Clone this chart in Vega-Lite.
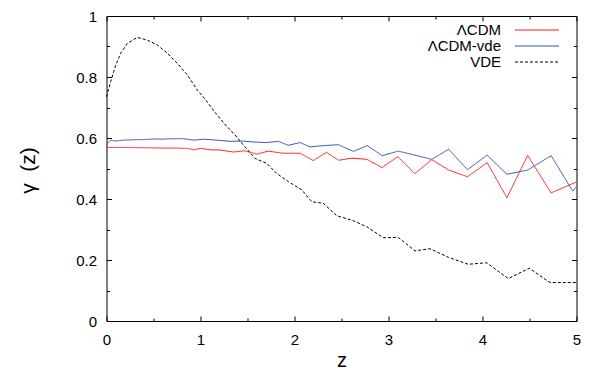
{
  "$schema": "https://vega.github.io/schema/vega-lite/v6.json",
  "width": 470,
  "height": 305,
  "autosize": "none",
  "padding": {"left": 106.5, "top": 16, "right": 12.5, "bottom": 47},
  "config": {
    "view": {"stroke": "black", "strokeWidth": 1},
    "font": "Liberation Sans",
    "axis": {
      "grid": false,
      "domain": false,
      "tickColor": "black",
      "tickWidth": 1,
      "labelColor": "black",
      "labelFont": "Liberation Sans",
      "labelFontSize": 15,
      "titleFont": "Liberation Sans",
      "titleFontWeight": "normal",
      "titleColor": "black"
    }
  },
  "data": {
    "values": [
      {"s": "ΛCDM", "z": 0, "g": 0.569},
      {"s": "ΛCDM", "z": 0.2, "g": 0.569},
      {"s": "ΛCDM", "z": 0.4, "g": 0.568},
      {"s": "ΛCDM", "z": 0.6, "g": 0.567},
      {"s": "ΛCDM", "z": 0.75, "g": 0.567},
      {"s": "ΛCDM", "z": 0.86, "g": 0.566},
      {"s": "ΛCDM", "z": 0.93, "g": 0.561},
      {"s": "ΛCDM", "z": 1.0, "g": 0.566},
      {"s": "ΛCDM", "z": 1.11, "g": 0.561},
      {"s": "ΛCDM", "z": 1.2, "g": 0.561},
      {"s": "ΛCDM", "z": 1.35, "g": 0.554},
      {"s": "ΛCDM", "z": 1.47, "g": 0.558},
      {"s": "ΛCDM", "z": 1.6, "g": 0.547},
      {"s": "ΛCDM", "z": 1.72, "g": 0.557},
      {"s": "ΛCDM", "z": 1.88, "g": 0.55},
      {"s": "ΛCDM", "z": 2.06, "g": 0.55},
      {"s": "ΛCDM", "z": 2.2, "g": 0.526},
      {"s": "ΛCDM", "z": 2.34, "g": 0.553},
      {"s": "ΛCDM", "z": 2.47, "g": 0.527},
      {"s": "ΛCDM", "z": 2.61, "g": 0.534},
      {"s": "ΛCDM", "z": 2.77, "g": 0.53},
      {"s": "ΛCDM", "z": 2.93, "g": 0.503},
      {"s": "ΛCDM", "z": 3.1, "g": 0.539},
      {"s": "ΛCDM", "z": 3.28, "g": 0.483},
      {"s": "ΛCDM", "z": 3.46, "g": 0.529},
      {"s": "ΛCDM", "z": 3.64, "g": 0.495},
      {"s": "ΛCDM", "z": 3.84, "g": 0.473},
      {"s": "ΛCDM", "z": 4.05, "g": 0.519},
      {"s": "ΛCDM", "z": 4.26, "g": 0.404},
      {"s": "ΛCDM", "z": 4.48, "g": 0.543},
      {"s": "ΛCDM", "z": 4.73, "g": 0.42},
      {"s": "ΛCDM", "z": 4.97, "g": 0.452},
      {"s": "ΛCDM", "z": 5.0, "g": 0.455},
      {"s": "ΛCDM-vde", "z": 0, "g": 0.578},
      {"s": "ΛCDM-vde", "z": 0.043, "g": 0.593},
      {"s": "ΛCDM-vde", "z": 0.087, "g": 0.59},
      {"s": "ΛCDM-vde", "z": 0.181, "g": 0.593},
      {"s": "ΛCDM-vde", "z": 0.284, "g": 0.594},
      {"s": "ΛCDM-vde", "z": 0.396, "g": 0.595},
      {"s": "ΛCDM-vde", "z": 0.517, "g": 0.597},
      {"s": "ΛCDM-vde", "z": 0.582, "g": 0.596},
      {"s": "ΛCDM-vde", "z": 0.649, "g": 0.597},
      {"s": "ΛCDM-vde", "z": 0.792, "g": 0.598},
      {"s": "ΛCDM-vde", "z": 0.868, "g": 0.596},
      {"s": "ΛCDM-vde", "z": 0.93, "g": 0.593},
      {"s": "ΛCDM-vde", "z": 1.037, "g": 0.596},
      {"s": "ΛCDM-vde", "z": 1.176, "g": 0.593},
      {"s": "ΛCDM-vde", "z": 1.314, "g": 0.589},
      {"s": "ΛCDM-vde", "z": 1.455, "g": 0.59},
      {"s": "ΛCDM-vde", "z": 1.562, "g": 0.587},
      {"s": "ΛCDM-vde", "z": 1.704, "g": 0.585},
      {"s": "ΛCDM-vde", "z": 1.828, "g": 0.589},
      {"s": "ΛCDM-vde", "z": 1.934, "g": 0.576},
      {"s": "ΛCDM-vde", "z": 2.059, "g": 0.585},
      {"s": "ΛCDM-vde", "z": 2.165, "g": 0.571},
      {"s": "ΛCDM-vde", "z": 2.306, "g": 0.575},
      {"s": "ΛCDM-vde", "z": 2.466, "g": 0.578},
      {"s": "ΛCDM-vde", "z": 2.626, "g": 0.556},
      {"s": "ΛCDM-vde", "z": 2.774, "g": 0.575},
      {"s": "ΛCDM-vde", "z": 2.934, "g": 0.542},
      {"s": "ΛCDM-vde", "z": 3.104, "g": 0.557},
      {"s": "ΛCDM-vde", "z": 3.279, "g": 0.544},
      {"s": "ΛCDM-vde", "z": 3.46, "g": 0.53},
      {"s": "ΛCDM-vde", "z": 3.64, "g": 0.563},
      {"s": "ΛCDM-vde", "z": 3.84, "g": 0.496},
      {"s": "ΛCDM-vde", "z": 4.05, "g": 0.544},
      {"s": "ΛCDM-vde", "z": 4.26, "g": 0.481},
      {"s": "ΛCDM-vde", "z": 4.48, "g": 0.495},
      {"s": "ΛCDM-vde", "z": 4.73, "g": 0.542},
      {"s": "ΛCDM-vde", "z": 4.96, "g": 0.426},
      {"s": "ΛCDM-vde", "z": 5.0, "g": 0.44},
      {"s": "VDE", "z": 0, "g": 0.735},
      {"s": "VDE", "z": 0.045, "g": 0.785},
      {"s": "VDE", "z": 0.098, "g": 0.839},
      {"s": "VDE", "z": 0.151, "g": 0.878},
      {"s": "VDE", "z": 0.221, "g": 0.91},
      {"s": "VDE", "z": 0.328, "g": 0.93},
      {"s": "VDE", "z": 0.434, "g": 0.921},
      {"s": "VDE", "z": 0.54, "g": 0.905},
      {"s": "VDE", "z": 0.647, "g": 0.878},
      {"s": "VDE", "z": 0.753, "g": 0.845},
      {"s": "VDE", "z": 0.86, "g": 0.807},
      {"s": "VDE", "z": 0.966, "g": 0.757},
      {"s": "VDE", "z": 1.055, "g": 0.725},
      {"s": "VDE", "z": 1.15, "g": 0.686},
      {"s": "VDE", "z": 1.25, "g": 0.648},
      {"s": "VDE", "z": 1.367, "g": 0.61},
      {"s": "VDE", "z": 1.473, "g": 0.571},
      {"s": "VDE", "z": 1.58, "g": 0.533},
      {"s": "VDE", "z": 1.704, "g": 0.517},
      {"s": "VDE", "z": 1.81, "g": 0.484},
      {"s": "VDE", "z": 1.934, "g": 0.457},
      {"s": "VDE", "z": 2.077, "g": 0.43},
      {"s": "VDE", "z": 2.183, "g": 0.391},
      {"s": "VDE", "z": 2.306, "g": 0.386},
      {"s": "VDE", "z": 2.45, "g": 0.345},
      {"s": "VDE", "z": 2.626, "g": 0.329},
      {"s": "VDE", "z": 2.768, "g": 0.309},
      {"s": "VDE", "z": 2.945, "g": 0.273},
      {"s": "VDE", "z": 3.104, "g": 0.274},
      {"s": "VDE", "z": 3.282, "g": 0.23},
      {"s": "VDE", "z": 3.441, "g": 0.237},
      {"s": "VDE", "z": 3.636, "g": 0.209},
      {"s": "VDE", "z": 3.849, "g": 0.186},
      {"s": "VDE", "z": 4.045, "g": 0.191},
      {"s": "VDE", "z": 4.274, "g": 0.139},
      {"s": "VDE", "z": 4.498, "g": 0.173},
      {"s": "VDE", "z": 4.718, "g": 0.126},
      {"s": "VDE", "z": 5.0, "g": 0.126}
    ]
  },
  "layer": [
    {
      "mark": {"type": "line", "strokeWidth": 1},
      "encoding": {
        "x": {"field": "z", "type": "quantitative",
          "scale": {"domain": [0, 5], "nice": false, "zero": false},
          "axis": {"orient": "bottom", "values": [0, 1, 2, 3, 4, 5], "ticks": false, "labelPadding": 11, "format": "~g", "labelFlush": false,
            "title": "z", "titleFontSize": 20, "titleY": 45, "titleBaseline": "alphabetic"}},
        "y": {"field": "g", "type": "quantitative",
          "scale": {"domain": [0, 1], "nice": false, "zero": false},
          "axis": {"orient": "left", "values": [0, 0.2, 0.4, 0.6, 0.8, 1], "ticks": false, "labelPadding": 10, "format": "~g", "labelFlush": false,
            "title": "γ\u00a0\u00a0(z)", "titleFontSize": 21, "titleX": -78, "titleY": 154, "titleAngle": -90, "titleBaseline": "middle"}},
        "color": {"field": "s", "type": "nominal",
          "scale": {"domain": ["ΛCDM", "ΛCDM-vde", "VDE"], "range": ["#ff1a1a", "#3355b0", "#000000"]},
          "legend": {"title": null, "orient": "none", "legendX": 423, "legendY": 6.5, "symbolType": "M-4.4,0H4.4", "symbolSize": 100, "symbolStrokeWidth": 1, "labelFontSize": 15, "labelFont": "Liberation Sans", "labelColor": "black", "labelLimit": 300, "rowPadding": 0,
            "encode": {"labels": {"update": {"x": {"value": -28.5}, "align": {"value": "right"}}}}}},
        "strokeDash": {"field": "s", "type": "nominal",
          "scale": {"domain": ["ΛCDM", "ΛCDM-vde", "VDE"], "range": [[1, 0], [1, 0], [3, 2]]},
          "legend": {"title": null, "orient": "none", "legendX": 423, "legendY": 6.5, "symbolType": "M-4.4,0H4.4", "symbolSize": 100, "symbolStrokeWidth": 1, "labelFontSize": 15, "labelFont": "Liberation Sans", "labelColor": "black", "labelLimit": 300, "rowPadding": 0,
            "encode": {"labels": {"update": {"x": {"value": -28.5}, "align": {"value": "right"}}}}}}
      }
    },
    {
      "mark": {"type": "line", "opacity": 0},
      "encoding": {
        "x": {"field": "z", "type": "quantitative", "scale": {"domain": [0, 5], "nice": false, "zero": false},
          "axis": {"orient": "bottom", "values": [0, 1, 2, 3, 4, 5], "tickSize": -5, "labels": false, "title": null}},
        "y": {"field": "g", "type": "quantitative", "scale": {"domain": [0, 1], "nice": false, "zero": false},
          "axis": {"orient": "left", "values": [0, 0.2, 0.4, 0.6, 0.8, 1], "tickSize": -5, "labels": false, "title": null}}
      }
    },
    {
      "mark": {"type": "line", "opacity": 0},
      "encoding": {
        "x": {"field": "z", "type": "quantitative", "scale": {"domain": [0, 5], "nice": false, "zero": false},
          "axis": {"orient": "bottom", "values": [0.5, 1.5, 2.5, 3.5, 4.5], "tickSize": -3, "labels": false, "title": null}},
        "y": {"field": "g", "type": "quantitative", "scale": {"domain": [0, 1], "nice": false, "zero": false},
          "axis": {"orient": "left", "values": [0.1, 0.3, 0.5, 0.7, 0.9], "tickSize": -3, "labels": false, "title": null}}
      }
    },
    {
      "mark": {"type": "line", "opacity": 0},
      "encoding": {
        "x": {"field": "z", "type": "quantitative", "scale": {"domain": [0, 5], "nice": false, "zero": false},
          "axis": {"orient": "top", "values": [0, 1, 2, 3, 4, 5], "tickSize": -5, "labels": false, "title": null}},
        "y": {"field": "g", "type": "quantitative", "scale": {"domain": [0, 1], "nice": false, "zero": false},
          "axis": {"orient": "right", "values": [0, 0.2, 0.4, 0.6, 0.8, 1], "tickSize": -5, "labels": false, "title": null}}
      }
    },
    {
      "mark": {"type": "line", "opacity": 0},
      "encoding": {
        "x": {"field": "z", "type": "quantitative", "scale": {"domain": [0, 5], "nice": false, "zero": false},
          "axis": {"orient": "top", "values": [0.5, 1.5, 2.5, 3.5, 4.5], "tickSize": -3, "labels": false, "title": null}},
        "y": {"field": "g", "type": "quantitative", "scale": {"domain": [0, 1], "nice": false, "zero": false},
          "axis": {"orient": "right", "values": [0.1, 0.3, 0.5, 0.7, 0.9], "tickSize": -3, "labels": false, "title": null}}
      }
    }
  ],
  "resolve": {"axis": {"x": "independent", "y": "independent"}}
}
